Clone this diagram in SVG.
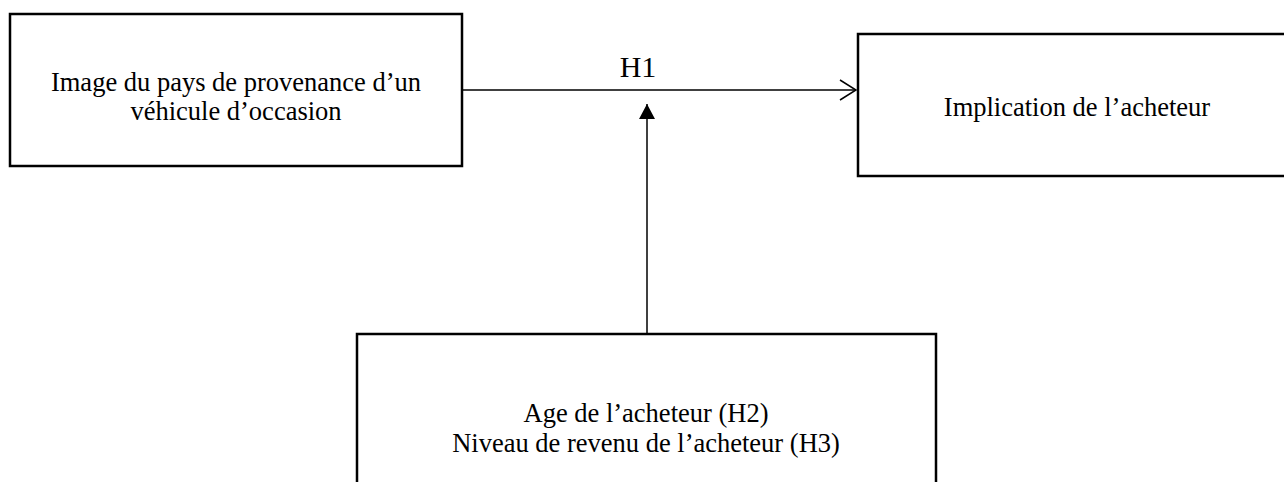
<svg xmlns="http://www.w3.org/2000/svg" width="1284" height="482" viewBox="0 0 1284 482">
<style>
.box{fill:#fff;stroke:#000;stroke-width:2.5}
.t{font-family:"Liberation Serif","Times New Roman",serif;font-size:26.5px;fill:#000;text-anchor:middle}
.h{font-size:30px}
.ln{stroke:#000;stroke-width:1.5;fill:none}
</style>
<defs>
<marker id="open" viewBox="0 0 18 22" refX="17" refY="11" markerWidth="18" markerHeight="22" markerUnits="userSpaceOnUse" orient="auto">
<path d="M1,1 L17,11 L1,21" fill="none" stroke="#000" stroke-width="1.5"/>
</marker>
<marker id="solid" viewBox="0 0 16 16" refX="15" refY="8" markerWidth="16" markerHeight="16" markerUnits="userSpaceOnUse" orient="auto">
<path d="M0,0 L15,8 L0,16 Z" fill="#000"/>
</marker>
</defs>
<rect width="1284" height="482" fill="#fff"/>
<g id="connectors">
<line class="ln" x1="463" y1="90" x2="856" y2="90" marker-end="url(#open)"/>
<line class="ln" x1="647" y1="333" x2="647" y2="104" marker-end="url(#solid)"/>
<text class="t h" x="638" y="77">H1</text>
</g>
<g id="node-image">
<rect class="box" x="10" y="14" width="452" height="152"/>
<text class="t" x="236" y="91">Image du pays de provenance d’un</text>
<text class="t" x="236" y="120">véhicule d’occasion</text>
</g>
<g id="node-implication">
<rect class="box" x="858" y="34" width="440" height="142"/>
<text class="t" x="1077" y="116">Implication de l’acheteur</text>
</g>
<g id="node-moderateurs">
<rect class="box" x="357" y="334" width="579" height="160"/>
<text class="t" x="646" y="422">Age de l’acheteur (H2)</text>
<text class="t" x="646" y="452">Niveau de revenu de l’acheteur (H3)</text>
</g>
</svg>
